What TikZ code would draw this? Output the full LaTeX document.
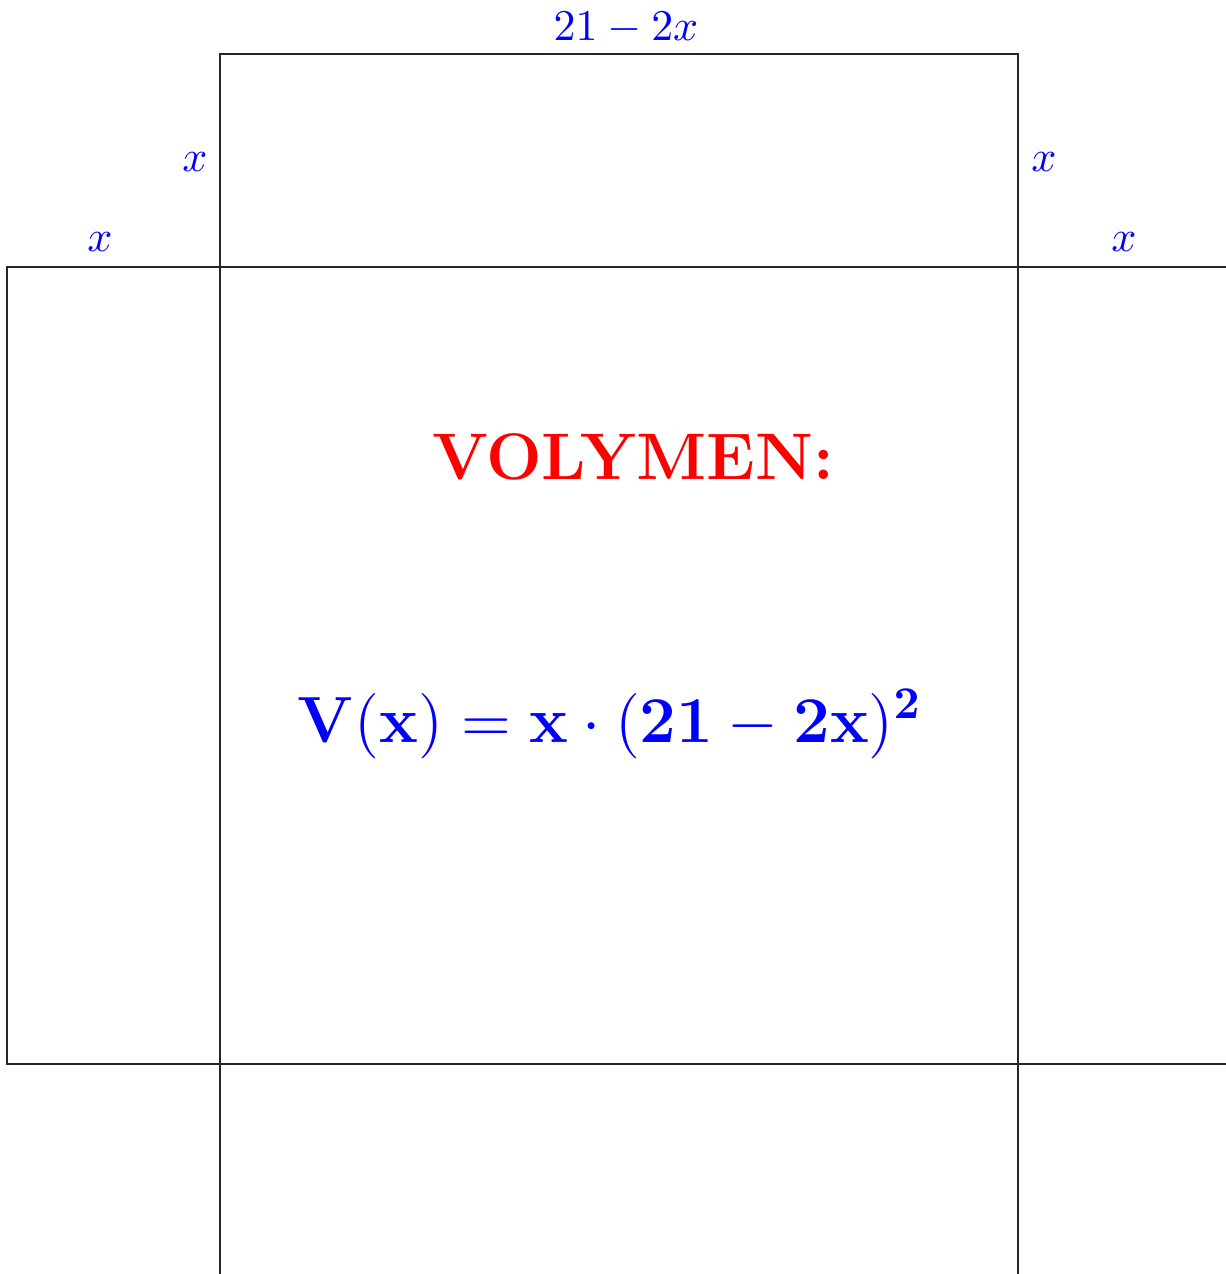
\documentclass[tikz,border=0pt]{standalone}
\begin{document}
\begin{tikzpicture}[x=0.0081566cm,y=-0.0081566cm,
  edge/.style={line width=0.25pt,draw=black!85},
  lbl/.style={text=blue,inner sep=0pt}]
\useasboundingbox (0,0) rectangle (1226,1274);
\begin{scope}
\clip (0,0) rectangle (1226,1274);
% central square
\coordinate (A) at (220,267);
\coordinate (B) at (1018,267);
\coordinate (C) at (1018,1064);
\coordinate (D) at (220,1064);
\draw[edge] (A) rectangle (C);
% top flap
\coordinate (T1) at (220,54);
\coordinate (T2) at (1018,54);
\draw[edge] (A) -- (T1) -- (T2) -- (B);
% left flap
\coordinate (L1) at (7,267);
\coordinate (L2) at (7,1064);
\draw[edge] (A) -- (L1) -- (L2) -- (D);
% right flap
\coordinate (R1) at (1240,267);
\coordinate (R2) at (1240,1064);
\draw[edge] (B) -- (R1);
\draw[edge] (C) -- (R2);
% bottom flap
\coordinate (B1) at (220,1290);
\coordinate (B2) at (1018,1290);
\draw[edge] (D) -- (B1);
\draw[edge] (C) -- (B2);
\end{scope}
% labels
\node[lbl] (w) at (626,28) {\scalebox{1.02}{$21-2x$}};
\node[lbl] (xl1) at (195,162) {\scalebox{1.02}{$x$}};
\node[lbl] (xr1) at (1044,162) {\scalebox{1.02}{$x$}};
\node[lbl] (xl2) at (100,242) {\scalebox{1.02}{$x$}};
\node[lbl] (xr2) at (1124,242) {\scalebox{1.02}{$x$}};
\node[text=red,inner sep=0pt,font=\fontsize{15.3}{18}\selectfont\bfseries] (vol) at (633,457) {VOLYMEN:};
\node[text=blue,inner sep=0pt,font=\Large] (f) at (610,724) {\scalebox{1.054}{$\mathbf{V(x)=x\cdot(21-2x)^2}$}};
\end{tikzpicture}
\end{document}
